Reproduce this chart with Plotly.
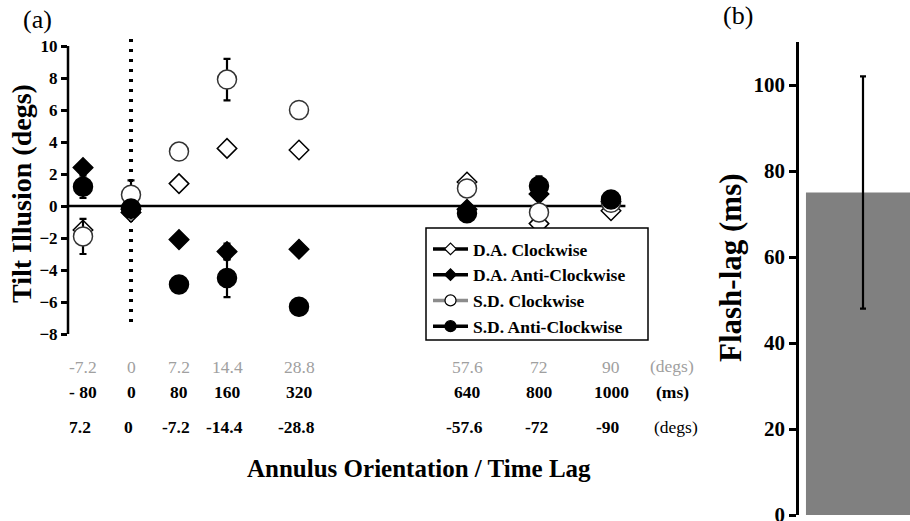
import plotly.graph_objects as go

# ---------------- data ----------------
# column slots along the (non-linear) x axis of panel (a)
slots = [0, 2, 4, 6, 9, 16, 19, 22]
deg_cw_labels = ["-7.2", "0", "7.2", "14.4", "28.8", "57.6", "72", "90"]
ms_labels = ["- 80", "0", "80", "160", "320", "640", "800", "1000"]
deg_acw_labels = ["7.2", "0", "-7.2", "-14.4", "-28.8", "-57.6", "-72", "-90"]

da_cw = [-1.5, -0.4, 1.4, 3.6, 3.5, 1.5, -1.1, -0.3]
da_cw_err = [0.3, 0.3, 0.3, 0.3, 0.3, 0.3, 0.3, 0.3]
da_acw = [2.4, -0.2, -2.1, -2.85, -2.7, -0.2, 0.75, 0.3]
da_acw_err = [0.3, 0.3, 0.3, 0.5, 0.3, 0.3, 0.3, 0.3]
sd_cw = [-1.9, 0.7, 3.4, 7.9, 6.0, 1.1, -0.4, 0.2]
sd_cw_err = [1.1, 0.9, 0.3, 1.3, 0.3, 0.3, 0.3, 0.2]
sd_acw = [1.2, -0.15, -4.9, -4.5, -6.3, -0.45, 1.25, 0.4]
sd_acw_err = [0.7, 0.3, 0.45, 1.2, 0.3, 0.3, 0.6, 0.2]

yticks_a = [-8, -6, -4, -2, 0, 2, 4, 6, 8, 10]

flash_lag = [75]
flash_lag_err = [27]
yticks_b = [0, 20, 40, 60, 80, 100]

# ---------------- figure ----------------
W, H = 910, 521
SERIF = "Liberation Serif"
fig = go.Figure()

def err(arr):
    return dict(type="data", array=arr, visible=True, color="black", thickness=2.2, width=3.5)

series = [
    ("D.A. Clockwise", da_cw, da_cw_err, "diamond", "white", "black", 15, "black"),
    ("D.A. Anti-Clockwise", da_acw, da_acw_err, "diamond", "black", "black", 15, "black"),
    ("S.D. Clockwise", sd_cw, sd_cw_err, "circle", "white", "#333333", 19, "#8c8c8c"),
    ("S.D. Anti-Clockwise", sd_acw, sd_acw_err, "circle", "black", "black", 19, "black"),
]
for name, ys, es, sym, fill, edge, size, lcol in series:
    fig.add_trace(go.Scatter(
        x=slots, y=ys, mode="markers", error_y=err(es), showlegend=False,
        marker=dict(symbol=sym, color=fill, size=size, line=dict(color=edge, width=1.5)),
        xaxis="x", yaxis="y", cliponaxis=False))
for i, (name, ys, es, sym, fill, edge, size, lcol) in enumerate(series):
    fig.add_trace(go.Scatter(
        x=[None], y=[None], mode="lines+markers", name=name, legendgroup=str(i),
        line=dict(color=lcol, width=3.5),
        marker=dict(symbol=sym, color=fill, size=9 if sym == "diamond" else 11,
                    line=dict(color="black", width=1.2)),
        xaxis="x", yaxis="y"))

fig.add_trace(go.Bar(
    x=[0], y=flash_lag, width=[1], marker=dict(color="#808080", line=dict(width=0)),
    error_y=dict(type="data", array=flash_lag_err, visible=True, color="black", thickness=2.2, width=3),
    showlegend=False, xaxis="x2", yaxis="y2"))

def fx(px):
    return px / W

def fy(py):
    return (H - py) / H

shapes = [
    # y axis line of (a)
    dict(type="line", xref="x domain", x0=0, x1=0, yref="y", y0=-8, y1=10,
         line=dict(color="black", width=2.5)),
    # zero line
    dict(type="line", xref="x domain", x0=0, x1=1, yref="y", y0=0, y1=0,
         line=dict(color="black", width=2.5), layer="below"),
    # dotted line at 0
    dict(type="line", xref="x", x0=slots[1], x1=slots[1], yref="y", y0=-7.25, y1=10.55,
         line=dict(color="black", width=4, dash="3px,7px"), layer="below"),
    # legend frame
    dict(type="rect", xref="paper", yref="paper", x0=fx(426), x1=fx(648), y0=fy(340), y1=fy(228),
         line=dict(color="black", width=1.5), fillcolor="white", layer="above"),
]

C = dict(xanchor="center", yanchor="middle", showarrow=False)
ann = []
for s, a, b, c in zip(slots, deg_cw_labels, ms_labels, deg_acw_labels):
    ann.append(dict(x=s, xref="x", y=fy(367), yref="paper", text=a, **C,
                    font=dict(family=SERIF, size=17.5, color="#a0a0a0")))
    ann.append(dict(x=s, xref="x", y=fy(392), yref="paper", text=b, **C,
                    font=dict(family=SERIF, size=17.5, color="black", weight="bold")))
    ann.append(dict(x=s, xref="x", y=fy(427), yref="paper", text=c, xshift=-3, **C,
                    font=dict(family=SERIF, size=17.5, color="black", weight="bold")))
ann += [
    dict(x=fx(672), y=fy(366), xref="paper", yref="paper", text="(degs)", **C,
         font=dict(family=SERIF, size=17.5, color="#a0a0a0")),
    dict(x=fx(672), y=fy(392), xref="paper", yref="paper", text="(ms)", **C,
         font=dict(family=SERIF, size=17.5, color="black", weight="bold")),
    dict(x=fx(676), y=fy(427), xref="paper", yref="paper", text="(degs)", **C,
         font=dict(family=SERIF, size=17.5, color="black")),
    dict(x=fx(419), y=fy(468), xref="paper", yref="paper", text="Annulus Orientation / Time Lag", **C,
         font=dict(family=SERIF, size=25, color="black", weight="bold")),
    dict(x=fx(21), y=fy(194), xref="paper", yref="paper", text="Tilt Illusion (degs)", textangle=-90, **C,
         font=dict(family=SERIF, size=28, color="black", weight="bold")),
    dict(x=fx(730), y=fy(268), xref="paper", yref="paper", text="Flash-lag (ms)", textangle=-90, **C,
         font=dict(family=SERIF, size=31, color="black", weight="bold")),
    dict(x=fx(37), y=fy(20), xref="paper", yref="paper", text="(a)", **C,
         font=dict(family=SERIF, size=26, color="black")),
    dict(x=fx(738), y=fy(16), xref="paper", yref="paper", text="(b)", **C,
         font=dict(family=SERIF, size=26, color="black")),
]

fig.update_layout(
    template="none",
    width=W, height=H, autosize=False,
    margin=dict(l=0, r=0, t=0, b=0, pad=0),
    paper_bgcolor="white", plot_bgcolor="rgba(0,0,0,0)",
    xaxis=dict(domain=[fx(68), fx(625.4)], range=[-0.625, 22.6], visible=False,
               fixedrange=True, automargin=False),
    yaxis=dict(domain=[fy(338.8), fy(34.8)], range=[-8.3, 10.7], tickvals=yticks_a,
               ticks="outside", ticklen=6, tickwidth=2.5, tickcolor="black",
               showgrid=False, zeroline=False, showline=False, automargin=False,
               tickfont=dict(family=SERIF, size=17, color="black", weight="bold")),
    xaxis2=dict(domain=[fx(799), 1.0], range=[-0.561, 0.412], visible=False, anchor="y2",
                automargin=False),
    yaxis2=dict(domain=[fy(515), fy(42)], range=[0, 110], tickvals=yticks_b, anchor="x2",
                ticks="outside", ticklen=7, tickwidth=2.5, tickcolor="black",
                showline=True, linewidth=2.5, linecolor="black", automargin=False,
                showgrid=False, zeroline=False, ticklabeloverflow="allow",
                tickfont=dict(family=SERIF, size=21, color="black", weight="bold")),
    legend=dict(x=fx(428), y=fy(231), xanchor="left", yanchor="top",
                borderwidth=0, bgcolor="rgba(0,0,0,0)",
                font=dict(family=SERIF, size=17.5, color="black", weight="bold"),
                tracegroupgap=0, itemwidth=35),
    shapes=shapes, annotations=ann, showlegend=True,
)

fig.write_html("out.html")
